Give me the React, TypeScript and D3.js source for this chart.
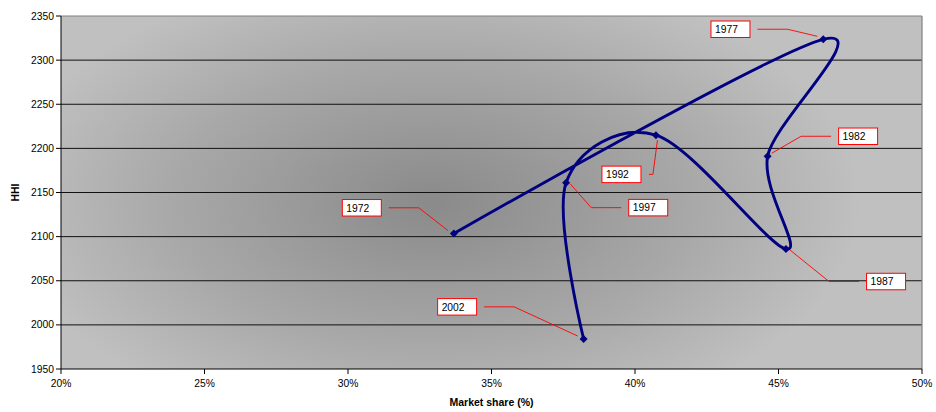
import React from "react";
import * as d3 from "d3";

const years = ["1972", "1977", "1982", "1987", "1992", "1997", "2002"];
const marketShare = [33.69, 46.56, 44.62, 45.26, 40.73, 37.6, 38.21];
const hhi = [2103.5, 2323.6, 2191, 2086, 2215, 2161, 1984];
const xTicks = [20, 25, 30, 35, 40, 45, 50];
const yTicks = [1950, 2000, 2050, 2100, 2150, 2200, 2250, 2300, 2350];

// label box positions (pixel offsets relative to the point), layout only
const labelLayout: Record<string, { bx: number; by: number; side: "left" | "right" }> = {
  "1972": { bx: -111.6, by: -34, side: "right" },
  "1977": { bx: -112.3, by: -18.3, side: "right" },
  "1982": { bx: 71, by: -28.3, side: "left" },
  "1987": { bx: 80.6, by: 24.3, side: "left" },
  "1992": { bx: -54, by: 31, side: "right" },
  "1997": { bx: 62.6, by: 16.6, side: "left" },
  "2002": { bx: -146, by: -40.4, side: "right" },
};

export default function App() {
  const W = 936;
  const H = 412;
  const left = 61;
  const right = 922;
  const top = 16;
  const bottom = 369;

  const x = d3.scaleLinear().domain([20, 50]).range([left, right]);
  const y = d3.scaleLinear().domain([1950, 2350]).range([bottom, top]);

  const pts: [number, number][] = marketShare.map((m, i) => [x(m), y(hhi[i])]);
  const line = d3.line<[number, number]>().curve(d3.curveCardinal.tension(0));
  const path = line(pts) || "";

  const font = "Arial, 'Liberation Sans', sans-serif";
  const boxW = 39;
  const boxH = 16.5;
  const gcx = (left + right) / 2 - 60;
  const gcy = (top + bottom) / 2 + 10;

  return (
    <svg width={W} height={H} style={{ position: "absolute", left: 0, top: 0, background: "#fff" }}>
      <defs>
        <radialGradient
          id="bg"
          gradientUnits="userSpaceOnUse"
          cx={gcx}
          cy={gcy}
          r={(right - left) / 2}
          gradientTransform={`translate(${gcx} ${gcy}) scale(1 0.55) translate(${-gcx} ${-gcy})`}
        >
          <stop offset="0" stopColor="#8a8a8a" />
          <stop offset="0.6" stopColor="#a8a8a8" />
          <stop offset="1" stopColor="#c0c0c0" />
        </radialGradient>
      </defs>
      <rect x={left} y={top} width={right - left} height={bottom - top} fill="#c0c0c0" />
      <rect x={left} y={top} width={right - left} height={bottom - top} fill="url(#bg)" />
      {yTicks.slice(1, -1).map((t) => (
        <line key={t} x1={left} x2={right} y1={y(t)} y2={y(t)} stroke="#111" strokeWidth={1} />
      ))}
      <line x1={left} x2={right} y1={top} y2={top} stroke="#808080" strokeWidth={1} />
      <line x1={right} x2={right} y1={top} y2={bottom} stroke="#808080" strokeWidth={1.2} />
      <line x1={left} x2={left} y1={top} y2={bottom} stroke="#000" strokeWidth={1} />
      <line x1={left} x2={right} y1={bottom} y2={bottom} stroke="#000" strokeWidth={1} />
      {yTicks.map((t) => (
        <g key={t}>
          <line x1={left - 5} x2={left} y1={y(t)} y2={y(t)} stroke="#000" />
          <text x={left - 7} y={y(t) + 3.5} textAnchor="end" fontFamily={font} fontSize={10.3} fill="#000">
            {t}
          </text>
        </g>
      ))}
      {xTicks.map((t) => (
        <g key={t}>
          <line x1={x(t)} x2={x(t)} y1={bottom} y2={bottom + 5} stroke="#000" />
          <text x={x(t)} y={bottom + 18} textAnchor="middle" fontFamily={font} fontSize={10.3} fill="#000">
            {t}%
          </text>
        </g>
      ))}
      <text x={(left + right) / 2} y={406} textAnchor="middle" fontFamily={font} fontSize={10.5} fontWeight="bold">
        Market share (%)
      </text>
      <text
        transform={`translate(19 ${(top + bottom) / 2}) rotate(-90)`}
        textAnchor="middle"
        fontFamily={font}
        fontSize={10.5}
        fontWeight="bold"
      >
        HHI
      </text>
      <path d={path} fill="none" stroke="#000080" strokeWidth={2.9} strokeLinejoin="round" />
      {pts.map(([px, py], i) => (
        <path key={i} d={`M${px},${py - 4}L${px + 4},${py}L${px},${py + 4}L${px - 4},${py}Z`} fill="#000080" />
      ))}
      {years.map((yr, i) => {
        const [px, py] = pts[i];
        const L = labelLayout[yr];
        const bx = px + L.bx;
        const by = py + L.by;
        const cy = by + boxH / 2;
        let d: string;
        if (yr === "1992") {
          const sx = bx + boxW + 8;
          d = `M${sx},${cy}L${sx + 4},${cy}L${px + 1.5},${py + 5}`;
        } else if (L.side === "right") {
          const sx = bx + boxW + 7.5;
          const ex = sx + 30;
          d = `M${sx},${cy}L${ex},${cy}L${px - 6},${py - 3}`;
        } else {
          const sx = bx - 7.5;
          const ex = sx - 30;
          d = `M${sx},${cy}L${ex},${cy}L${px + 4},${py + (py < by ? 1 : -3)}`;
        }
        return (
          <g key={yr}>
            <path d={d} fill="none" stroke="#ff0000" strokeWidth={0.9} />
            <rect x={bx} y={by} width={boxW} height={boxH} fill="#fff" stroke="#ff0000" strokeWidth={1} />
            <text x={bx + 4} y={by + 12} fontFamily={font} fontSize={10.3} fill="#000">
              {yr}
            </text>
          </g>
        );
      })}
    </svg>
  );
}
